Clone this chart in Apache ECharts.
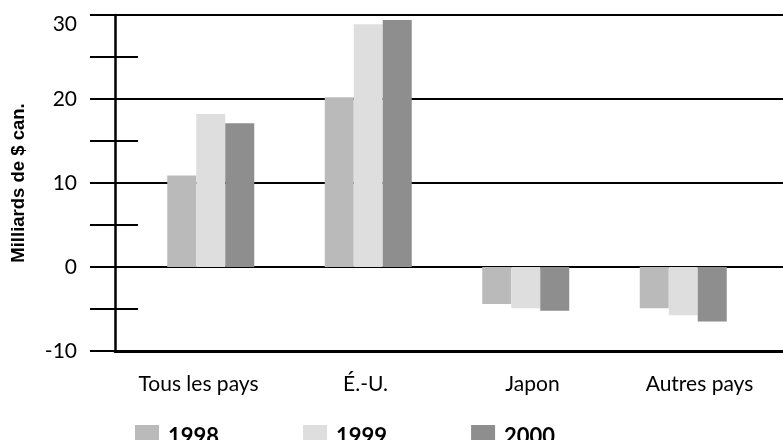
<!DOCTYPE html>
<html>
<head>
<meta charset="utf-8">
<script src="https://cdn.jsdelivr.net/npm/echarts@6/dist/echarts.min.js"></script>
<style>html,body{margin:0;padding:0;background:#fff}#c{width:783px;height:440px}</style>
</head>
<body>
<div id="c"></div>
<script>
var categories = ['Tous les pays', 'É.-U.', 'Japon', 'Autres pays'];
var years = ['1998', '1999', '2000'];
var v1998 = [10.9, 20.2, -4.4, -4.9];
var v1999 = [18.2, 28.9, -4.9, -5.75];
var v2000 = [17.1, 29.4, -5.2, -6.5];
var colors = ['#bababa', '#dedede', '#8e8e8e'];
var yName = 'Milliards de $ can.';

var chart = echarts.init(document.getElementById('c'));
var font = 'Lato';
chart.setOption({
  animation: false,
  backgroundColor: '#fff',
  color: colors,
  legend: {
    left: 130, top: 420,
    itemWidth: 24, itemHeight: 24, itemGap: 84,
    icon: 'rect',
    data: years,
    textStyle: { fontFamily: font, fontSize: 22, fontWeight: 'bold', color: '#000', padding: [0, 0, 0, 4] }
  },
  grid: [
    { left: 115, right: 0, top: 15, bottom: 89 },
    { left: 132, right: 21, top: 15, bottom: 89 }
  ],
  xAxis: [
    {
      type: 'category', gridIndex: 0, data: categories,
      axisLine: { onZero: false, lineStyle: { color: '#000', width: 3 } },
      axisTick: { show: false },
      axisLabel: { margin: 23, fontFamily: font, fontSize: 21, color: '#000' }
    },
    {
      type: 'category', gridIndex: 1, data: categories, show: false
    }
  ],
  yAxis: [
    {
      type: 'value', gridIndex: 0, min: -10, max: 30, interval: 10,
      name: yName, nameLocation: 'middle', nameGap: 87,
      nameTextStyle: { fontFamily: 'Liberation Sans', fontWeight: 'bold', fontSize: 18.5, color: '#000' },
      axisLine: { show: true, lineStyle: { color: '#000', width: 2.5 } },
      axisTick: { show: true, length: 25, lineStyle: { color: '#000', width: 2 } },
      axisLabel: {
        margin: 38, fontFamily: font, fontSize: 21, color: '#000',
        formatter: function (v) { return v === 30 ? '{t|30}' : String(v); },
        rich: { t: { padding: [18, 0, 0, 0], fontFamily: font, fontSize: 21, color: '#000' } }
      },
      splitLine: { show: true, lineStyle: { color: '#000', width: 2 } }
    },
    {
      type: 'value', gridIndex: 0, min: -10, max: 30, interval: 5,
      position: 'left', offset: -23,
      axisLine: { show: false },
      axisTick: { show: true, length: 48, lineStyle: { color: '#000', width: 2 } },
      axisLabel: { show: false },
      splitLine: { show: false }
    },
    {
      type: 'value', gridIndex: 1, min: -10, max: 30, show: false,
      splitLine: { show: false }
    }
  ],
  series: [
    { name: years[0], type: 'bar', xAxisIndex: 1, yAxisIndex: 2, data: v1998, barWidth: 29, barGap: '0%' },
    { name: years[1], type: 'bar', xAxisIndex: 1, yAxisIndex: 2, data: v1999, barWidth: 29, barGap: '0%' },
    { name: years[2], type: 'bar', xAxisIndex: 1, yAxisIndex: 2, data: v2000, barWidth: 29, barGap: '0%' }
  ]
});
</script>
</body>
</html>
